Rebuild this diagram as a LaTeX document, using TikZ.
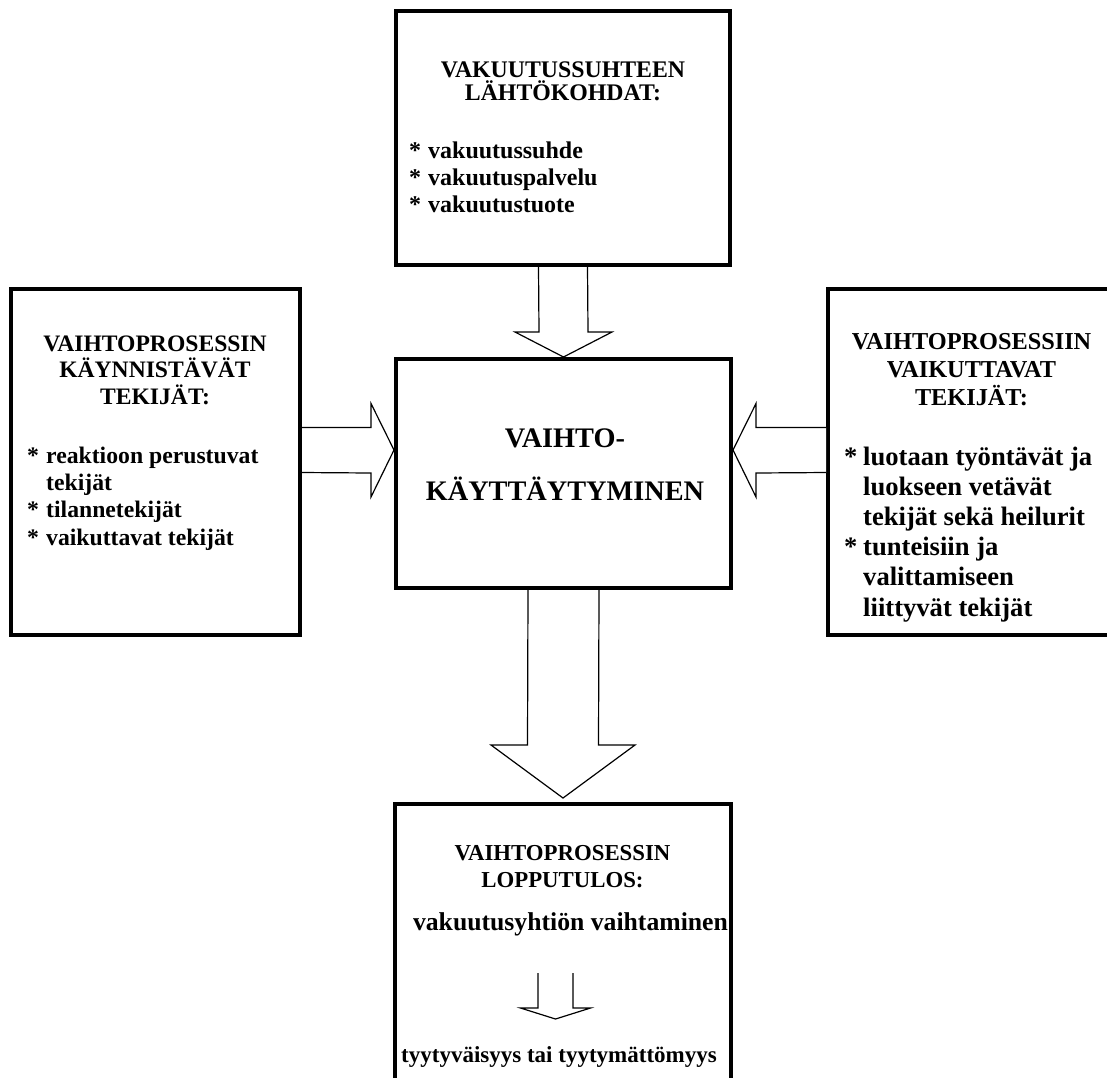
\documentclass[tikz,border=0pt]{standalone}
\usepackage{fontspec}
\setmainfont{Liberation Serif}
\usetikzlibrary{calc}
\newcommand\bitem{\makebox[19pt][l]{*}}
\newcommand\bindent{\hspace*{19pt}}

\begin{document}
\begin{tikzpicture}[x=1pt,y=-1pt,line join=miter,
  box/.style={draw,line width=4pt,inner sep=0pt},
  hollow/.style={draw,line width=1.2pt,fill=white},
  head/.style={inner sep=0pt,align=center,anchor=base},
  list/.style={inner sep=0pt,align=left,anchor=base west}]
\useasboundingbox (0,0) rectangle (1107,1077);
\clip (0,0) rectangle (1107,1077);
\node[box,minimum width=334pt,minimum height=254pt] (top) at (563,138) {};
\node[box,minimum width=335pt,minimum height=229pt] (mid) at (563.5,473.5) {};
\node[box,minimum width=289pt,minimum height=346pt] (left) at (155.5,462) {};
\node[box,minimum width=287pt,minimum height=346pt] (right) at (971.5,462) {};
\node[box,minimum width=336pt,minimum height=316pt] (bot) at (563,962) {};

\node[head,font=\bfseries\fontsize{23.8}{23}\selectfont] (topHead) at (563,100) {VAKUUTUSSUHTEEN\\LÄHTÖKOHDAT:};
\node[list,font=\bfseries\fontsize{24}{27}\selectfont] (topList) at (409,212) {\bitem vakuutussuhde\\\bitem vakuutuspalvelu\\\bitem vakuutustuote};

\node[head,font=\bfseries\fontsize{28.3}{53}\selectfont] (midText) at (565,500) {VAIHTO-\\KÄYTTÄYTYMINEN};

\node[head,font=\bfseries\fontsize{23.6}{26.5}\selectfont] (leftHead) at (155,404) {VAIHTOPROSESSIN\\KÄYNNISTÄVÄT\\TEKIJÄT:};
\node[list,font=\bfseries\fontsize{23.7}{27.3}\selectfont] (leftList) at (27,545) {\bitem reaktioon perustuvat\\\bindent tekijät\\\bitem tilannetekijät\\\bitem vaikuttavat tekijät};

\node[head,font=\bfseries\fontsize{24.3}{28}\selectfont] (rightHead) at (971.5,405) {VAIHTOPROSESSIIN\\VAIKUTTAVAT\\TEKIJÄT:};
\node[list,font=\bfseries\fontsize{26.6}{30.2}\selectfont] (rightList) at (844,616) {\bitem luotaan työntävät ja\\\bindent luokseen vetävät\\\bindent tekijät sekä heilurit\\\bitem tunteisiin ja\\\bindent valittamiseen\\\bindent liittyvät tekijät};

\node[head,font=\bfseries\fontsize{22.8}{27}\selectfont] (botHead) at (562.5,887) {VAIHTOPROSESSIN\\LOPPUTULOS:};
\node[head,font=\bfseries\fontsize{25.7}{30}\selectfont] (change) at (570.5,930) {vakuutusyhtiön vaihtaminen};
\node[head,font=\bfseries\fontsize{23}{30}\selectfont] (result) at (559,1062) {tyytyväisyys tai tyytymättömyys};

\coordinate (ltip) at ($(mid.west)+(0,-23.5)$);
\coordinate (rtip) at ($(mid.east)+(0,-23.5)$);
\coordinate (btip) at ($(bot.north)+(0,-4)$);
\coordinate (sa) at (555.5,973);
\coordinate (sb) at (555.5,1019);

\draw[hollow] ($(top.south)+(-24.5,0)$) -- ($(mid.north)+(-24.5,-25)$) -- ++(-24,0) -- (mid.north) -- ++(48.5,-25) -- ++(-24,0) -- ($(top.south)+(24.5,0)$);
\draw[hollow] ($(left.east|-ltip)+(0,-22.5)$) -- ($(ltip)+(-23,-22.5)$) -- ++(0,-24) -- (ltip) -- ++(-23,47) -- ++(0,-24) -- ($(left.east|-ltip)+(0,22.5)$);
\draw[hollow] ($(right.west|-rtip)+(0,-22.5)$) -- ($(rtip)+(23,-22.5)$) -- ++(0,-24) -- (rtip) -- ++(23,47) -- ++(0,-24) -- ($(right.west|-rtip)+(0,22.5)$);
\draw[hollow] ($(mid.south)+(-35.5,0)$) -- ($(btip)+(-35.5,-53)$) -- ++(-36.5,0) -- (btip) -- ++(72,-53) -- ++(-36.5,0) -- ($(mid.south)+(35.5,0)$);
\draw[hollow] ($(sa)+(-17.5,0)$) -- ($(sb)+(-17.5,-11)$) -- ++(-17.5,0) -- (sb) -- ++(35,-11) -- ++(-17.5,0) -- ($(sa)+(17.5,0)$);
\end{tikzpicture}
\end{document}
